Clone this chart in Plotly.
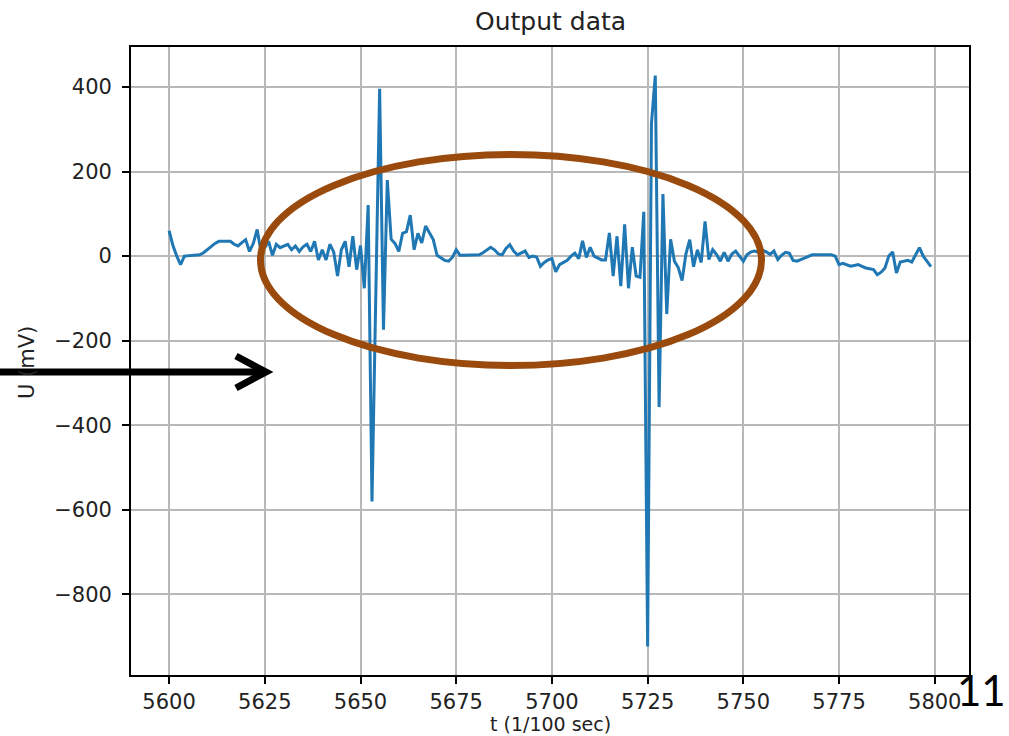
import plotly.graph_objects as go

# ---- data ----
t_start = 5600
u_values = [
    60, 25, 0, -20, 0, 1, 1, 2, 3, 8,            # 5600-5609
    16, 24, 30, 35, 35, 35, 35, 28, 24, 32,      # 5610-5619
    39, 11, 30, 63, 11, 20, 35, 2, 28, 20,       # 5620-5629
    25, 28, 15, 24, 11, 22, 28, 11, 35, -9,      # 5630-5639
    15, -9, 28, 10, -47, 15, 35, -25, 47, -32,   # 5640-5649
    25, -76, 121, -580, -90, 396, -174, 180, 40, 30,  # 5650-5659
    11, 54, 58, 97, 15, 54, 31, 71, 55, 39,      # 5660-5669
    2, -5, -10, -12, -3, 15, 2, 2, 2, 2,         # 5670-5679
    2, 3, 8, 14, 21, 15, 5, 3, 18, 27,           # 5680-5689
    12, 3, 8, 12, -3, 0, -2, -24, -15, -9,       # 5690-5699
    -6, -37, -20, -14, -10, 0, 7, -6, 36, -3,    # 5700-5709
    21, 0, -5, -9, -9, 55, -47, 47, -71, 75,     # 5710-5719
    -76, 21, -47, -50, 105, -923, 314, 427, -357, 147,  # 5720-5729
    -137, 40, -12, -27, -58, 5, 39, -25, 15, -15,  # 5730-5739
    82, -8, 15, 4, -12, 9, -12, 5, 12, 0,        # 5740-5749
    -12, 4, 10, 12, 9, 14, 10, 4, 12, -8,        # 5750-5759
    2, 9, 7, -10, -12, -8, -4, 0, 3, 3,          # 5760-5769
    3, 3, 3, 3, 0, -20, -17, -20, -24, -22,      # 5770-5779
    -20, -24, -28, -30, -32, -44, -38, -28, 0, 10,  # 5780-5789
    -40, -14, -12, -10, -14, 5, 20, 0, -14, -25,  # 5790-5799
]
t_values = [t_start + i for i in range(len(u_values))]

x_ticks = [5600, 5625, 5650, 5675, 5700, 5725, 5750, 5775, 5800]
y_ticks = [-800, -600, -400, -200, 0, 200, 400]

title_text = "Output data"
x_label = "t (1/100 sec)"
y_label = "U (mV)"
slide_number = "11"

# ---- layout geometry (pixels) ----
W, H = 1009, 736
L, R, T, B = 131, 969, 47, 675


def px(x):
    return (x - L) / (R - L)


def py(y):
    return (B - y) / (B - T)


FONT = "DejaVu Sans"
TXT = "#222222"

fig = go.Figure()
fig.add_trace(go.Scatter(
    x=t_values, y=u_values, mode="lines",
    line=dict(color="#1f77b4", width=3),
    showlegend=False, hoverinfo="skip",
))

axis_common = dict(
    showline=True, mirror=True, linecolor="black", linewidth=1.7,
    ticks="outside", ticklen=7, tickwidth=1.7, tickcolor="black",
    showgrid=True, gridcolor="#b8b8b8", gridwidth=1.6,
    zeroline=False,
    tickfont=dict(family=FONT, size=21, color=TXT),
)

xmin, xmax = min(t_values), max(t_values)
ymin, ymax = min(u_values), max(u_values)
xpad = (xmax - xmin) * 0.05
ypad = (ymax - ymin) * 0.05

fig.update_xaxes(range=[xmin - xpad, xmax + xpad], tickvals=x_ticks,
                 ticklabelstandoff=0, **axis_common)
fig.update_yaxes(range=[ymin - ypad, ymax + ypad], tickvals=y_ticks,
                 ticklabelstandoff=6, **axis_common)

annotations = [
    dict(text=title_text, x=px(550), y=py(22), xref="paper", yref="paper",
         showarrow=False, font=dict(family=FONT, size=25, color=TXT),
         xanchor="center", yanchor="middle"),
    dict(text=x_label, x=px(550), y=py(736), xref="paper", yref="paper",
         showarrow=False, font=dict(family=FONT, size=19, color=TXT),
         xanchor="center", yanchor="bottom", borderpad=0),
    dict(text=y_label, x=px(27), y=py(363), xref="paper", yref="paper",
         showarrow=False, textangle=-90,
         font=dict(family=FONT, size=21, color=TXT),
         xanchor="center", yanchor="middle"),
    dict(text=slide_number, x=px(981), y=py(690), xref="paper", yref="paper",
         showarrow=False, font=dict(family="Lato", size=42, color="black"),
         xanchor="center", yanchor="middle"),
]

shapes = [
    # brown ellipse
    dict(type="circle", xref="paper", yref="paper",
         x0=px(260.5), x1=px(761.5), y0=py(365.5), y1=py(154.5),
         line=dict(color="#994A0C", width=7), fillcolor="rgba(0,0,0,0)"),
    # black arrow shaft
    dict(type="line", xref="paper", yref="paper",
         x0=px(0), x1=px(264), y0=py(372), y1=py(372),
         line=dict(color="black", width=7)),
    # arrow head
    dict(type="path", xref="paper", yref="paper",
         path=f"M {px(236)},{py(356)} L {px(266)},{py(372)} L {px(236)},{py(388)}",
         line=dict(color="black", width=7), fillcolor="rgba(0,0,0,0)"),
]

fig.update_layout(
    width=W, height=H,
    margin=dict(l=L, r=W - R, t=T, b=H - B, pad=0),
    paper_bgcolor="white", plot_bgcolor="white",
    annotations=annotations, shapes=shapes,
    font=dict(family=FONT, color=TXT),
)

fig.write_html("out.html")
